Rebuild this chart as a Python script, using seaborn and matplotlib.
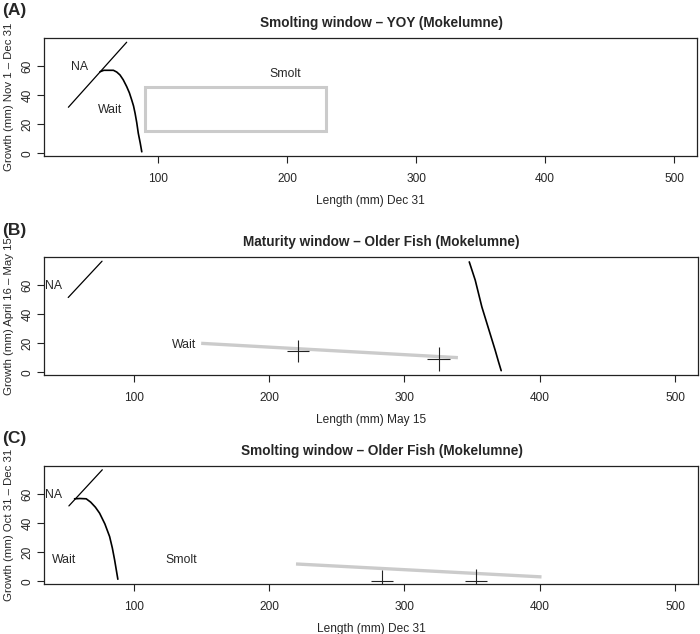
import matplotlib
matplotlib.use('Agg')
import matplotlib.pyplot as plt
import matplotlib.patches as mpatches
import seaborn as sns

sns.set_style('ticks')
plt.rcParams['font.family'] = ['Liberation Sans', 'DejaVu Sans']

# ---- Panel A: Smolting window - YOY ----
a_na_x = [30.5, 75.7]
a_na_y = [31.6, 76.3]
a_wait_x = [55, 58, 62, 65.4, 68, 70.5, 73, 75.7, 77.8, 79.6, 81, 82.2, 83.5, 84.7, 86.2, 87.4]
a_wait_y = [56, 57, 57, 57, 55.8, 53.8, 50.5, 45.8, 41.5, 36.6, 32.5, 27.5, 21, 13.7, 7, 1]
a_box = [89.9, 15.5, 230.0, 45.4]  # x0, y0, x1, y1 of smolt window
a_labels = ['NA', 'Wait', 'Smolt']
a_label_x = [39.5, 62.8, 198.4]
a_label_y = [59.6, 29.8, 54.5]

# ---- Panel B: Maturity window - Older fish ----
b_na_x = [51.4, 76.4]
b_na_y = [51.7, 76.8]
b_curve_x = [347.9, 352.3, 357.2, 362.1, 367.0, 369.5, 371.5]
b_curve_y = [76.3, 63.7, 45.2, 30.3, 15.4, 7.3, 1.1]
b_grey_x = [149.7, 339.5]
b_grey_y = [20.0, 10.1]
b_obs_x = [221.4, 325.3]
b_obs_y = [14.7, 9.2]
b_obs_xerr = [8.2, 8.7]
b_obs_yerr = [7.8, 8.0]
b_labels = ['NA', 'Wait']
b_label_x = [40.3, 137.4]
b_label_y = [59.5, 18.8]

# ---- Panel C: Smolting window - Older fish ----
c_na_x = [51.9, 76.6]
c_na_y = [51.9, 76.8]
c_wait_x = [56.1, 60, 64.7, 68, 71.5, 74.6, 78.5, 82, 84, 85.7, 87, 88.1]
c_wait_y = [56.8, 57, 56.8, 54.5, 51, 46.9, 39.5, 30.8, 23, 14.7, 7.5, 1.4]
c_grey_x = [219.8, 401.3]
c_grey_y = [11.9, 3.0]
c_obs_x = [283.2, 352.9]
c_obs_y = [0.0, 0.0]
c_obs_xerr = [8.0, 8.3]
c_obs_yerr = [8.0, 8.2]
c_labels = ['NA', 'Wait', 'Smolt']
c_label_x = [40.7, 48.7, 134.6]
c_label_y = [59.5, 14.7, 14.7]

xticks = [100, 200, 300, 400, 500]
yticks = [0, 20, 40, 60]

GREY = '#cbcbcb'
W, H = 700, 634

fig = plt.figure(figsize=(7, 6.34), dpi=100)


def make_ax(left, top, right, bottom, xlim, ylim, title, xlabel, ylabel, tag):
    ax = fig.add_axes([left / W, 1 - bottom / H, (right - left) / W, (bottom - top) / H])
    ax.set_xlim(*xlim)
    ax.set_ylim(*ylim)
    ax.set_xticks(xticks)
    ax.set_yticks(yticks)
    for s in ax.spines.values():
        s.set_color('#222222')
        s.set_linewidth(0.9)
    ax.tick_params(axis='both', direction='out', length=5, width=0.8,
                   labelsize=8.6, color='#222222')
    ax.tick_params(axis='x', pad=7)
    ax.tick_params(axis='y', pad=2.5, labelrotation=90)
    for lab in ax.get_yticklabels():
        lab.set_va('center')
    ax.set_title(title, fontweight='bold', fontsize=9.8, x=0.516, pad=8)
    ax.set_xlabel(xlabel, fontsize=8.6)
    ax.set_ylabel(ylabel, fontsize=8.2)
    hpx = bottom - top
    wpx = right - left
    ax.xaxis.set_label_coords(0.5, -39 / hpx)
    ax.yaxis.set_label_coords(-30 / wpx, 0.5)
    fig.text(2 / W, 1 - (top - 27) / H, tag, fontsize=12.5, fontweight='bold',
             va='center', ha='left')
    return ax


def black_line(ax, x, y, lw=1.2):
    sns.lineplot(x=x, y=y, sort=False, estimator=None, color='black',
                 linewidth=lw, ax=ax)


def grey_line(ax, x, y):
    sns.lineplot(x=x, y=y, sort=False, estimator=None, color=GREY,
                 linewidth=2.4, ax=ax, solid_capstyle='butt')


def crosses(ax, x, y, xerr, yerr):
    ax.errorbar(x, y, xerr=xerr, yerr=yerr, fmt='none', ecolor='#222222',
                elinewidth=0.8, capsize=0)


def labels(ax, txt, x, y):
    for t, tx, ty in zip(txt, x, y):
        ax.text(tx, ty, t, fontsize=8.8, ha='center', va='center')


# A
axA = make_ax(44, 38, 697, 156, (11.6, 517.8), (-1.9, 79.2),
              'Smolting window \u2013 YOY (Mokelumne)', 'Length (mm) Dec 31',
              'Growth (mm) Nov 1 \u2013 Dec 31', '(A)')
black_line(axA, a_na_x, a_na_y, lw=0.9)
black_line(axA, a_wait_x, a_wait_y)
axA.add_patch(mpatches.Rectangle((a_box[0], a_box[1]), a_box[2] - a_box[0],
                                 a_box[3] - a_box[1], fill=False,
                                 edgecolor=GREY, linewidth=2.2))
labels(axA, a_labels, a_label_x, a_label_y)

# B
axB = make_ax(44, 257, 698, 375, (33.5, 517.0), (-1.9, 79.7),
              'Maturity window \u2013 Older Fish (Mokelumne)', 'Length (mm) May 15',
              'Growth (mm) April 16 \u2013 May 15', '(B)')
black_line(axB, b_na_x, b_na_y, lw=0.9)
black_line(axB, b_curve_x, b_curve_y)
grey_line(axB, b_grey_x, b_grey_y)
crosses(axB, b_obs_x, b_obs_y, b_obs_xerr, b_obs_yerr)
labels(axB, b_labels, b_label_x, b_label_y)

# C
axC = make_ax(44, 466, 698, 584, (33.5, 517.0), (-1.9, 79.4),
              'Smolting window \u2013 Older Fish (Mokelumne)', 'Length (mm) Dec 31',
              'Growth (mm) Oct 31 \u2013 Dec 31', '(C)')
black_line(axC, c_na_x, c_na_y, lw=0.9)
black_line(axC, c_wait_x, c_wait_y)
grey_line(axC, c_grey_x, c_grey_y)
crosses(axC, c_obs_x, c_obs_y, c_obs_xerr, c_obs_yerr)
labels(axC, c_labels, c_label_x, c_label_y)

fig.savefig('out.png', dpi=100)
